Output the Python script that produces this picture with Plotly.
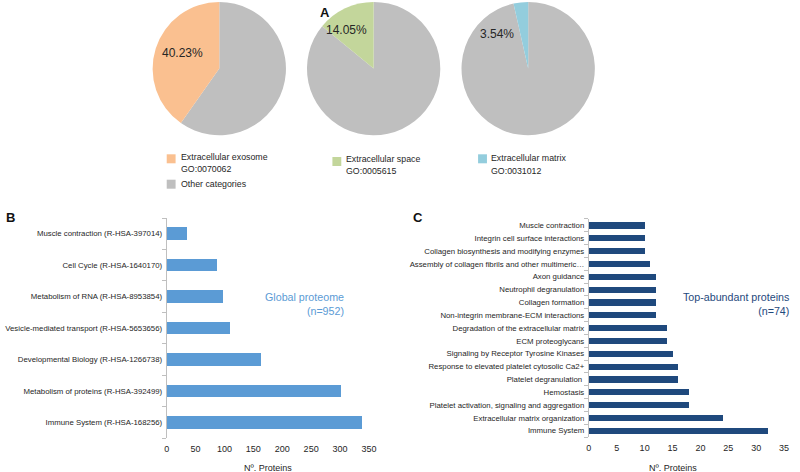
import plotly.graph_objects as go

# ---------------- data ----------------
pie_names = ["Extracellular exosome", "Extracellular space", "Extracellular matrix"]
pie_go_ids = ["GO:0070062", "GO:0005615", "GO:0031012"]
pie_pct = [40.23, 14.05, 3.54]
other_label = "Other categories"

b_categories = [
    "Immune System (R-HSA-168256)",
    "Metabolism of proteins (R-HSA-392499)",
    "Developmental Biology (R-HSA-1266738)",
    "Vesicle-mediated transport (R-HSA-5653656)",
    "Metabolism of RNA (R-HSA-8953854)",
    "Cell Cycle (R-HSA-1640170)",
    "Muscle contraction (R-HSA-397014)",
]
b_values = [338, 301, 162, 109, 97, 86, 34]
b_ticks = [0, 50, 100, 150, 200, 250, 300, 350]

c_categories = [
    "Immune System",
    "Extracellular matrix organization",
    "Platelet activation, signaling and aggregation",
    "Hemostasis",
    "Platelet degranulation ",
    "Response to elevated platelet cytosolic Ca2+",
    "Signaling by Receptor Tyrosine Kinases",
    "ECM proteoglycans",
    "Degradation of the extracellular matrix",
    "Non-integrin membrane-ECM interactions",
    "Collagen formation",
    "Neutrophil degranulation",
    "Axon guidance",
    "Assembly of collagen fibrils and other multimeric…",
    "Collagen biosynthesis and modifying enzymes",
    "Integrin cell surface interactions",
    "Muscle contraction",
]
c_values = [32, 24, 18, 18, 16, 16, 15, 14, 14, 12, 12, 12, 12, 11, 10, 10, 10]
c_ticks = [0, 5, 10, 15, 20, 25, 30, 35]

b_note = ["Global proteome", "(n=952)"]
c_note = ["Top-abundant proteins", "(n=74)"]
x_title = "Nº. Proteins"
panel_letters = ["A", "B", "C"]

# ---------------- style ----------------
W, H = 800, 472
FONT = "Liberation Sans, Arial, sans-serif"
TXT = "#262626"
GREY = "#BFBFBF"
pie_colors = ["#FAC090", "#C3D69B", "#93CDDD"]
B_COLOR = "#5B9BD5"
C_COLOR = "#1F497D"


def px(x):
    return x / W


def py(y):
    return 1 - y / H


fig = go.Figure()

# ---------------- panel A: pies ----------------
pie_cx = [219.3, 375.8, 532.5]
pie_cy = 68.6
pie_r = 67.6
for i, (name, pct) in enumerate(zip(pie_names, pie_pct)):
    cx = pie_cx[i]
    fig.add_trace(go.Pie(
        labels=[other_label, name],
        values=[round(100 - pct, 2), pct],
        sort=False,
        direction="clockwise",
        rotation=0,
        marker=dict(colors=[GREY, pie_colors[i]], line=dict(width=0)),
        textinfo="none",
        hoverinfo="label+percent",
        showlegend=False,
        domain=dict(x=[px(cx - pie_r), px(cx + pie_r)],
                    y=[py(pie_cy + pie_r), py(pie_cy - pie_r)]),
    ))

annotations = []
pct_pos = [(182.3, 53.5), (348.3, 30.5), (501.0, 34.5)]
for (x, y), pct in zip(pct_pos, pie_pct):
    annotations.append(dict(x=px(x), y=py(y), xref="paper", yref="paper",
                            text=f"{pct:.2f}%", showarrow=False,
                            xanchor="center", yanchor="middle",
                            font=dict(family=FONT, size=12, color=TXT)))

shapes = []
leg_sq = [(166, 154.3), (334, 157), (481.7, 154.3)]
leg_txt = [(178, 157.3, 169.3), (345.7, 159.5, 171.3), (492.7, 158, 170.7)]
for i in range(3):
    sx, sy = leg_sq[i]
    shapes.append(dict(type="rect", xref="paper", yref="paper",
                       x0=px(sx), x1=px(sx + 9), y0=py(sy + 9), y1=py(sy),
                       fillcolor=pie_colors[i], line=dict(width=0)))
    tx, ty1, ty2 = leg_txt[i]
    for t, ty in ((pie_names[i], ty1), (pie_go_ids[i], ty2)):
        annotations.append(dict(x=px(tx), y=py(ty), xref="paper", yref="paper",
                                text=t, showarrow=False, xanchor="left",
                                yanchor="middle",
                                font=dict(family=FONT, size=8.8, color=TXT)))
shapes.append(dict(type="rect", xref="paper", yref="paper",
                   x0=px(166), x1=px(175), y0=py(188.7), y1=py(179.7),
                   fillcolor=GREY, line=dict(width=0)))
annotations.append(dict(x=px(178), y=py(183.5), xref="paper", yref="paper",
                        text=other_label, showarrow=False, xanchor="left",
                        yanchor="middle",
                        font=dict(family=FONT, size=8.8, color=TXT)))

# ---------------- panel B ----------------
fig.add_trace(go.Bar(
    x=b_values, y=b_categories, orientation="h",
    marker=dict(color=B_COLOR, line=dict(width=0)),
    width=0.4, xaxis="x", yaxis="y", showlegend=False,
))

# ---------------- panel C ----------------
fig.add_trace(go.Bar(
    x=c_values, y=c_categories, orientation="h",
    marker=dict(color=C_COLOR, line=dict(width=0)),
    width=0.48, xaxis="x2", yaxis="y2", showlegend=False,
))

xa_common = dict(showgrid=False, zeroline=False, showline=False, ticks="",
                 tickfont=dict(family=FONT, size=9, color=TXT),
                 ticklabelstandoff=4, fixedrange=True)
ya_common = dict(type="category", showgrid=False, zeroline=False,
                 showline=True, linecolor=GREY, linewidth=1,
                 ticks="outside", ticklen=4, tickcolor=GREY, tickwidth=1,
                 tickson="boundaries",
                 tickfont=dict(family=FONT, size=7.8, color=TXT),
                 ticklabelstandoff=2, fixedrange=True)

fig.update_layout(
    width=W, height=H,
    margin=dict(l=0, r=0, t=0, b=0),
    paper_bgcolor="white", plot_bgcolor="white",
    font=dict(family=FONT, color=TXT),
    bargap=0,
    xaxis=dict(domain=[px(166), px(371)], range=[0, 350], tickvals=b_ticks,
               anchor="y", **xa_common),
    yaxis=dict(domain=[py(438), py(218)], anchor="x",
               categoryorder="array", categoryarray=b_categories, **ya_common),
    xaxis2=dict(domain=[px(594), px(792)], range=[0, 35], tickvals=c_ticks,
                anchor="y2", **xa_common),
    yaxis2=dict(domain=[py(437.1), py(218.9)], anchor="x2",
                categoryorder="array", categoryarray=c_categories, **ya_common),
)

# notes
annotations.append(dict(x=px(347.5), y=py(303.5), xref="paper", yref="paper",
                        text="<br>".join(b_note), showarrow=False,
                        xanchor="right", yanchor="middle", align="right",
                        font=dict(family=FONT, size=10.7, color=B_COLOR)))
annotations.append(dict(x=px(798.5), y=py(303.5), xref="paper", yref="paper",
                        text="<br>".join(c_note), showarrow=False,
                        xanchor="right", yanchor="middle", align="right",
                        font=dict(family=FONT, size=10.7, color=C_COLOR)))
# axis titles
for xc in (268.5, 679.5):
    annotations.append(dict(x=px(xc), y=py(468), xref="paper", yref="paper",
                            text=x_title, showarrow=False,
                            xanchor="center", yanchor="middle",
                            font=dict(family=FONT, size=9, color=TXT)))
# panel letters
for letter, (x, y) in zip(panel_letters, [(326.5, 12), (7.5, 217), (421, 217)]):
    annotations.append(dict(x=px(x), y=py(y), xref="paper", yref="paper",
                            text=f"<b>{letter}</b>", showarrow=False,
                            xanchor="center", yanchor="middle",
                            font=dict(family=FONT, size=13, color="#111111")))

fig.update_layout(annotations=annotations, shapes=shapes)

fig.write_html("out.html",
               config={"displayModeBar": False},
               post_script="document.body.style.margin='0';"
                           "document.body.style.overflow='hidden';")
